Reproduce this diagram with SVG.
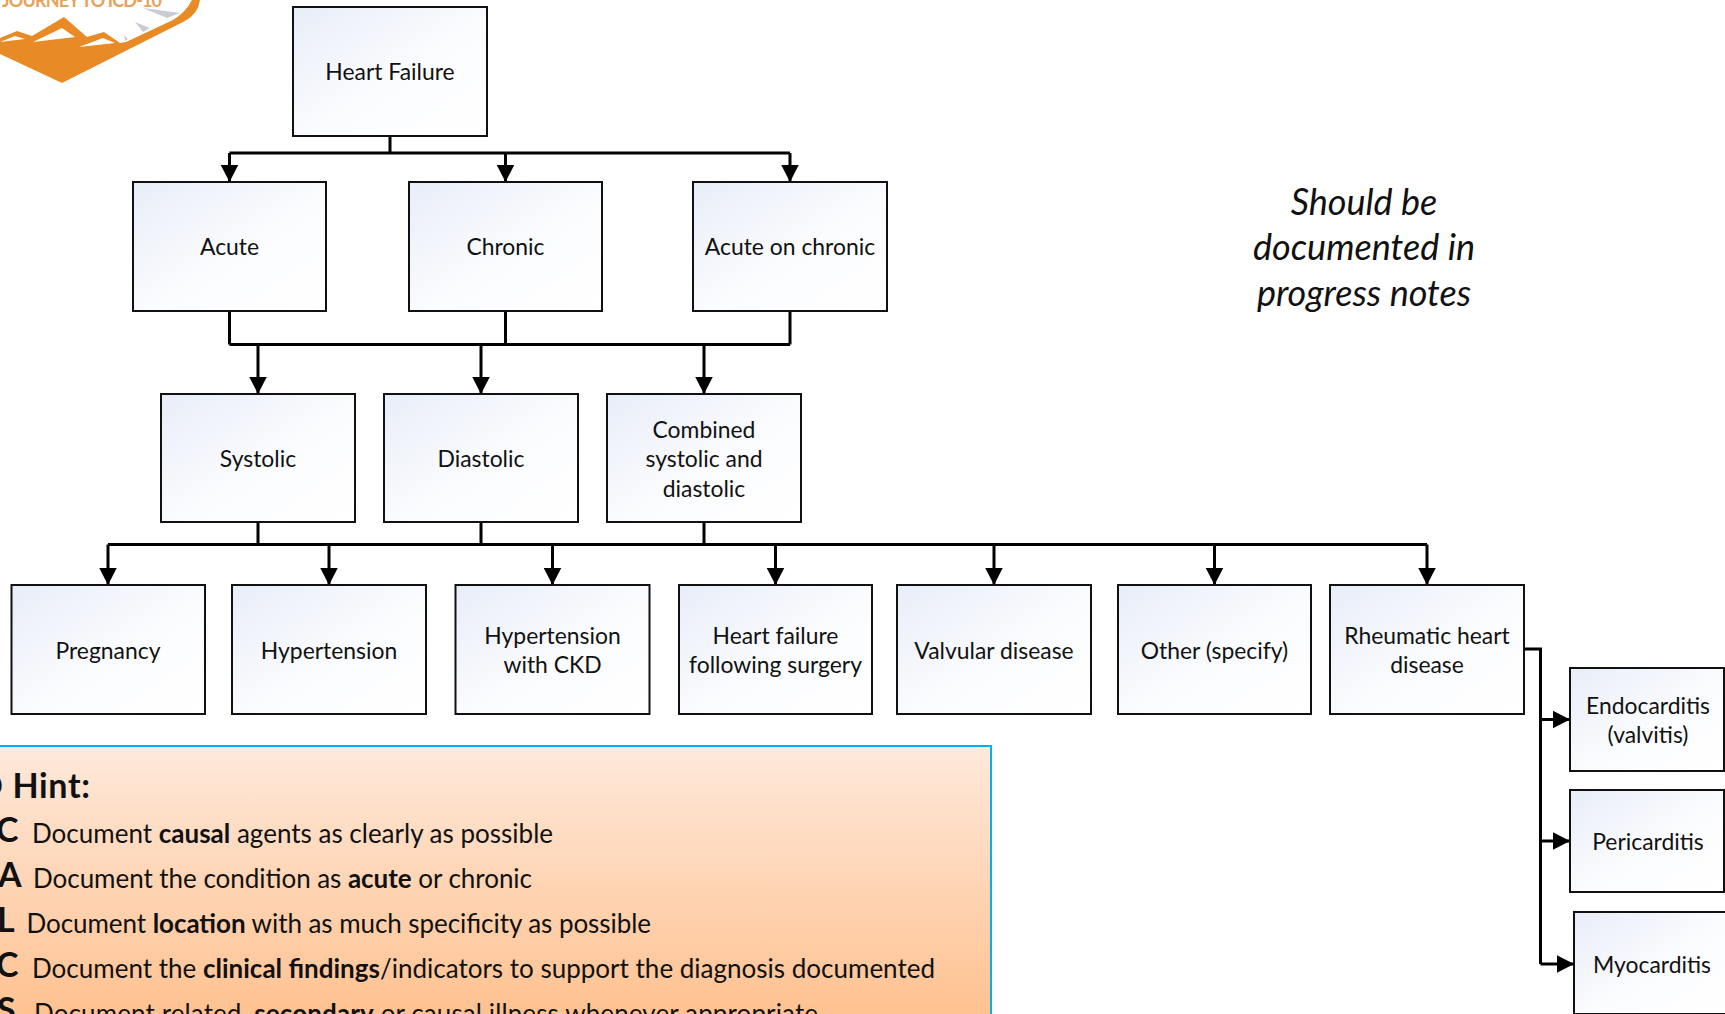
<svg xmlns="http://www.w3.org/2000/svg" width="1725" height="1014" viewBox="0 0 1725 1014">
<style>
.box{fill:url(#bg);stroke:#111;stroke-width:2}
.lb{font-family:Lato,"Liberation Sans",sans-serif;font-size:22.900px;fill:#111;text-anchor:middle;transform:translateY(.6px)}
.c{fill:none;stroke:#000;stroke-width:3}
.h{font-family:Lato,"Liberation Sans",sans-serif;font-size:26px;fill:#111;transform:translateY(.5px)}
.k{font-family:Lato,"Liberation Sans",sans-serif;font-size:34px;font-weight:700;fill:#111}
.n{font-family:Lato,"Liberation Sans",sans-serif;font-size:36px;font-style:italic;fill:#111;text-anchor:middle}
</style>
<defs>
<linearGradient id="bg" x1="0" y1="0" x2="1" y2="1"><stop offset="0" stop-color="#e8edf8"/><stop offset=".55" stop-color="#fbfcfe"/><stop offset="1" stop-color="#fff"/></linearGradient>
<linearGradient id="og" x1="0" y1="0" x2="0" y2="1"><stop offset="0" stop-color="#fee9db"/><stop offset="1" stop-color="#ffbd88"/></linearGradient>
<marker id="a" markerUnits="userSpaceOnUse" markerWidth="18" markerHeight="18" refX="17.500" refY="9" orient="auto"><path d="M0 0L17.500 9L0 18Z" fill="#000"/></marker>
</defs>
<rect width="1725" height="1014" fill="#fff"/>
<g id="logo">
<path d="M143 8L180 13L167 18ZM135 22L150 28L143 32ZM124 35L128 39L125 41Z" fill="#c9cdd3"/>
<path d="M192 0H200Q198 14 185 21L62 83L0 54V38L17 31L32 36L64 17L87 37L104 32L120 43L126 42L173 20Q186 12 192 0Z" fill="#e88a26"/>
<path d="M0 42L15 36L25 39ZM33 42L62 28L75 37ZM79 47L103 38L115 43Z" fill="#fff"/>
<text x="2" y="6.500" font-family="Lato,'Liberation Sans',sans-serif" font-size="18" font-weight="700" fill="#e5a35c" textLength="160">JOURNEY TO ICD-10</text>
</g>
<g id="connectors" class="conn">
<path class="c" d="M390 136V153M229.500 153H790"/>
<path class="c" marker-end="url(#a)" d="M229.500 153V182"/>
<path class="c" marker-end="url(#a)" d="M505.500 153V182"/>
<path class="c" marker-end="url(#a)" d="M790 153V182"/>
<path class="c" d="M229.500 311V344.500M505.500 311V344.500M790 311V344.500M229.500 344.500H790"/>
<path class="c" marker-end="url(#a)" d="M258 344.500V394"/>
<path class="c" marker-end="url(#a)" d="M481 344.500V394"/>
<path class="c" marker-end="url(#a)" d="M704 344.500V394"/>
<path class="c" d="M258 522V544.500M481 522V544.500M704 522V544.500M108 544.500H1427"/>
<path class="c" marker-end="url(#a)" d="M108 544.500V585"/>
<path class="c" marker-end="url(#a)" d="M329 544.500V585"/>
<path class="c" marker-end="url(#a)" d="M552.500 544.500V585"/>
<path class="c" marker-end="url(#a)" d="M775.500 544.500V585"/>
<path class="c" marker-end="url(#a)" d="M994 544.500V585"/>
<path class="c" marker-end="url(#a)" d="M1214.500 544.500V585"/>
<path class="c" marker-end="url(#a)" d="M1427 544.500V585"/>
<path class="c" d="M1524 649H1540.500V964"/>
<path class="c" marker-end="url(#a)" d="M1540.500 719.500H1570"/>
<path class="c" marker-end="url(#a)" d="M1540.500 841H1570"/>
<path class="c" marker-end="url(#a)" d="M1540.500 964H1574"/>
</g>
<g id="n-heart-failure"><rect class="box" x="293" y="7" width="194" height="129"/><text class="lb" x="390" y="79">Heart Failure</text></g>
<g id="n-acute"><rect class="box" x="133" y="182" width="193" height="129"/><text class="lb" x="229.500" y="254">Acute</text></g>
<g id="n-chronic"><rect class="box" x="409" y="182" width="193" height="129"/><text class="lb" x="505.500" y="254">Chronic</text></g>
<g id="n-acute-on-chronic"><rect class="box" x="693" y="182" width="194" height="129"/><text class="lb" x="790" y="254">Acute on chronic</text></g>
<g id="n-systolic"><rect class="box" x="161" y="394" width="194" height="128"/><text class="lb" x="258" y="466">Systolic</text></g>
<g id="n-diastolic"><rect class="box" x="384" y="394" width="194" height="128"/><text class="lb" x="481" y="466">Diastolic</text></g>
<g id="n-combined"><rect class="box" x="607" y="394" width="194" height="128"/><text class="lb" x="704" y="437">Combined</text><text class="lb" x="704" y="466">systolic and</text><text class="lb" x="704" y="496">diastolic</text></g>
<g id="n-pregnancy"><rect class="box" x="11.500" y="585" width="193.500" height="129"/><text class="lb" x="108" y="658">Pregnancy</text></g>
<g id="n-hypertension"><rect class="box" x="232" y="585" width="194" height="129"/><text class="lb" x="329" y="658">Hypertension</text></g>
<g id="n-htn-ckd"><rect class="box" x="455.500" y="585" width="194" height="129"/><text class="lb" x="552.500" y="643">Hypertension</text><text class="lb" x="552.500" y="672">with CKD</text></g>
<g id="n-hf-surgery"><rect class="box" x="679" y="585" width="193" height="129"/><text class="lb" x="775.500" y="643">Heart failure</text><text class="lb" x="775.500" y="672">following surgery</text></g>
<g id="n-valvular"><rect class="box" x="897" y="585" width="194" height="129"/><text class="lb" x="994" y="658">Valvular disease</text></g>
<g id="n-other"><rect class="box" x="1118" y="585" width="193" height="129"/><text class="lb" x="1214.500" y="658">Other (specify)</text></g>
<g id="n-rheumatic"><rect class="box" x="1330" y="585" width="194" height="129"/><text class="lb" x="1427" y="643">Rheumatic heart</text><text class="lb" x="1427" y="672">disease</text></g>
<g id="n-endocarditis"><rect class="box" x="1570" y="668" width="154" height="103"/><text class="lb" x="1648" y="713">Endocarditis</text><text class="lb" x="1648" y="742">(valvitis)</text></g>
<g id="n-pericarditis"><rect class="box" x="1570" y="790" width="154" height="102"/><text class="lb" x="1648" y="849">Pericarditis</text></g>
<g id="n-myocarditis"><rect class="box" x="1574" y="912" width="154" height="102"/><text class="lb" x="1652" y="972">Myocarditis</text></g>
<g id="hint">
<rect x="-10" y="746" width="1001" height="300" fill="url(#og)" stroke="#00b0f0" stroke-width="2"/>
<text class="k" x="-23" y="797.500" textLength="113">D Hint:</text>
<text class="k" x="-4" y="842">C</text><text class="h" x="32" y="842" textLength="521">Document <tspan font-weight="700">causal</tspan> agents as clearly as possible</text>
<text class="k" x="-2" y="887">A</text><text class="h" x="33" y="887" textLength="499">Document the condition as <tspan font-weight="700">acute</tspan> or chronic</text>
<text class="k" x="-3" y="932">L</text><text class="h" x="26.500" y="932" textLength="624.500">Document <tspan font-weight="700">location</tspan> with as much specificity as possible</text>
<text class="k" x="-4" y="977">C</text><text class="h" x="32" y="977" textLength="903">Document the <tspan font-weight="700">clinical findings</tspan>/indicators to support the diagnosis documented</text>
<text class="k" x="-3" y="1022">S</text><text class="h" x="34" y="1022" textLength="784">Document related, <tspan font-weight="700">secondary</tspan> or causal illness whenever appropriate</text>
</g>
<g id="note">
<text class="n" x="1364" y="215">Should be</text>
<text class="n" x="1364" y="260">documented in</text>
<text class="n" x="1364" y="305.500">progress notes</text>
</g>
</svg>
